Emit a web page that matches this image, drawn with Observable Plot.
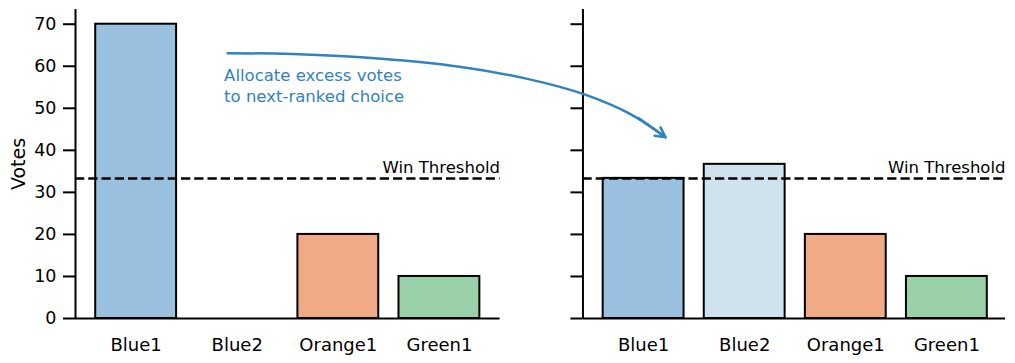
<!DOCTYPE html>
<html><head><meta charset="utf-8">
<script src="https://cdn.jsdelivr.net/npm/d3@7"></script>
<script src="https://cdn.jsdelivr.net/npm/@observablehq/plot@0.6"></script>
<style>body{margin:0;background:#fff}</style>
</head><body><div id="chart"></div>
<script>
// ---- data ----
const categories = ["Blue1", "Blue2", "Orange1", "Green1"];
const votesBefore = [70, 0, 20, 10];
const votesAfter = [33.33, 36.67, 20, 10];
const barColors = ["#99c0de", "#cfe3ef", "#f1aa86", "#9ad0a8"];
const winThreshold = 33.33;
const yTicks = [0, 10, 20, 30, 40, 50, 60, 70];
const yLabel = "Votes";
const thresholdLabel = "Win Threshold";
const annotationText = "Allocate excess votes\nto next-ranked choice";
const annotationColor = "#3182bd";
// annotation arrow path (x in category units, y in votes)
const arrowX = [0.904, 1.547, 2.427, 3.199, 3.871, 4.435, 4.890, 5.237];
const arrowY = [63.1, 62.9, 61.8, 59.9, 57.0, 53.3, 48.6, 43.1];
const annotationAt = {x: 0.87, y: 60.0};

// ---- layout ----
const panelOffset = 5.02;          // right panel category positions shifted by this
const half = 0.6;                  // axes extend this far beyond outer categories
const barHalf = 0.4;
const panels = [
  {x1: -half, x2: categories.length - 1 + half},
  {x1: panelOffset - half, x2: panelOffset + categories.length - 1 + 0.58}
];
const yMax = 73.5;

const bars = [];
categories.forEach((c, i) => {
  bars.push({pos: i, value: votesBefore[i], color: barColors[i]});
  bars.push({pos: i + panelOffset, value: votesAfter[i], color: barColors[i]});
});
const tickPositions = [...categories.map((_, i) => i), ...categories.map((_, i) => i + panelOffset)];
const tickNames = [...categories, ...categories];
const arrowPts = arrowX.map((x, i) => ({x, y: arrowY[i]}));
const nA = arrowPts.length;

const chart = Plot.plot({
  width: 1015,
  height: 363,
  marginLeft: 75,
  marginRight: 10,
  marginTop: 9,
  marginBottom: 45,
  style: {fontFamily: "DejaVu Sans", fontSize: "17px", color: "black", background: "white"},
  x: {domain: [panels[0].x1, panels[1].x2]},
  y: {domain: [0, yMax]},
  marks: [
    Plot.rect(bars, {x1: d => d.pos - barHalf, x2: d => d.pos + barHalf, y1: 0, y2: "value",
      fill: "color", stroke: "black", strokeWidth: 2}),
    // threshold lines
    Plot.ruleY(panels, {y: () => winThreshold, x1: "x1", x2: "x2", stroke: "black",
      strokeWidth: 2.5, strokeDasharray: "9.25,4"}),
    Plot.text(panels, {x: "x2", y: () => winThreshold, text: () => thresholdLabel,
      textAnchor: "end", lineAnchor: "bottom", dy: -5, fontSize: 16.5}),
    // spines
    Plot.ruleX(panels, {x: "x1", y1: 0, y2: yMax, stroke: "black", strokeWidth: 2}),
    Plot.ruleY(panels, {y: () => 0, x1: "x1", x2: "x2", stroke: "black", strokeWidth: 2}),
    // right panel y ticks (no labels)
    Plot.ruleY(yTicks, {y: d => d, x1: panels[1].x1, x2: panels[1].x1, insetLeft: -12,
      stroke: "black", strokeWidth: 2}),
    // left y axis
    Plot.axisY({ticks: yTicks, tickSize: 12, tickPadding: 7, strokeWidth: 2, fontSize: 17.5,
      label: null}),
    Plot.text([yLabel], {text: d => d, frameAnchor: "left", rotate: -90, textAnchor: "middle",
      lineAnchor: "bottom", dx: -51, fontSize: 19}),
    // x axis labels
    Plot.axisX({ticks: tickPositions, tickFormat: d => tickNames[tickPositions.indexOf(d)],
      tickSize: 0, tickPadding: 20, fontSize: 18, label: null}),
    // annotation
    Plot.line(arrowPts, {x: "x", y: "y", curve: "catmull-rom", stroke: annotationColor, strokeWidth: 2.5}),
    Plot.arrow([0], {x1: arrowX[nA - 2] + 0.08, y1: arrowY[nA - 2] - 0.9,
      x2: arrowX[nA - 1], y2: arrowY[nA - 1], headLength: 16, headAngle: 55,
      stroke: annotationColor, strokeWidth: 2.5}),
    Plot.text([annotationAt], {x: "x", y: "y", text: () => annotationText, textAnchor: "start",
      lineAnchor: "top", lineHeight: 1.27, fill: annotationColor, fontSize: 16.5})
  ]
});
document.getElementById("chart").appendChild(chart);
</script>
</body></html>
